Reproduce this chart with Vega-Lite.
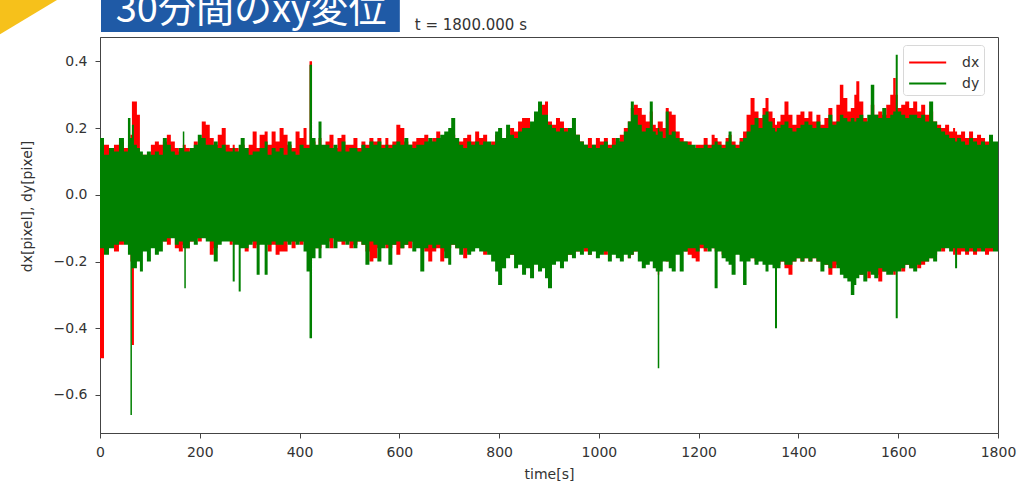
{
 "$schema": "https://vega.github.io/schema/vega-lite/v6.json",
 "width": 898,
 "height": 396,
 "autosize": {"type": "none"},
 "padding": {"left": 100, "top": 37, "right": 22, "bottom": 52},
 "background": "white",
 "config": {
  "view": {"stroke": "#444", "strokeWidth": 1},
  "font": "DejaVu Sans",
  "axis": {"grid": false, "labelFont": "DejaVu Sans", "titleFont": "DejaVu Sans", "labelColor": "#333", "titleColor": "#333", "tickColor": "#444", "domainColor": "#444", "titleFontWeight": "normal", "labelFontSize": 14, "titleFontSize": 14}
 },
 "data": {"values": [
  {"t":0,"xh":0.16,"xl":-0.49,"yh":0.17,"yl":-0.16},
  {"t":8,"xh":0.15,"xl":-0.17,"yh":0.12,"yl":-0.18},
  {"t":18,"xh":0.14,"xl":-0.15,"yh":0.14,"yl":-0.16},
  {"t":28,"xh":0.15,"xl":-0.17,"yh":0.13,"yl":-0.15},
  {"t":38,"xh":0.16,"xl":-0.15,"yh":0.17,"yl":-0.14},
  {"t":48,"xh":0.14,"xl":-0.14,"yh":0.13,"yl":-0.15},
  {"t":56,"xh":0.15,"xl":-0.13,"yh":0.23,"yl":-0.18},
  {"t":61,"xh":0.18,"xl":-0.2,"yh":0.17,"yl":-0.66},
  {"t":64,"xh":0.28,"xl":-0.45,"yh":0.21,"yl":-0.22},
  {"t":68,"xh":0.28,"xl":-0.2,"yh":0.15,"yl":-0.22},
  {"t":74,"xh":0.24,"xl":-0.16,"yh":0.14,"yl":-0.2},
  {"t":80,"xh":0.11,"xl":-0.17,"yh":0.13,"yl":-0.23},
  {"t":86,"xh":0.12,"xl":-0.15,"yh":0.12,"yl":-0.17},
  {"t":94,"xh":0.11,"xl":-0.14,"yh":0.13,"yl":-0.2},
  {"t":102,"xh":0.15,"xl":-0.15,"yh":0.12,"yl":-0.16},
  {"t":110,"xh":0.16,"xl":-0.14,"yh":0.13,"yl":-0.18},
  {"t":118,"xh":0.15,"xl":-0.13,"yh":0.12,"yl":-0.17},
  {"t":126,"xh":0.16,"xl":-0.14,"yh":0.17,"yl":-0.14},
  {"t":134,"xh":0.18,"xl":-0.15,"yh":0.15,"yl":-0.13},
  {"t":142,"xh":0.16,"xl":-0.12,"yh":0.13,"yl":-0.13},
  {"t":150,"xh":0.14,"xl":-0.16,"yh":0.12,"yl":-0.15},
  {"t":158,"xh":0.13,"xl":-0.17,"yh":0.14,"yl":-0.14},
  {"t":166,"xh":0.15,"xl":-0.15,"yh":0.19,"yl":-0.16},
  {"t":169,"xh":0.15,"xl":-0.16,"yh":0.13,"yl":-0.28},
  {"t":172,"xh":0.14,"xl":-0.16,"yh":0.13,"yl":-0.16},
  {"t":180,"xh":0.13,"xl":-0.14,"yh":0.14,"yl":-0.14},
  {"t":188,"xh":0.16,"xl":-0.13,"yh":0.15,"yl":-0.15},
  {"t":196,"xh":0.15,"xl":-0.14,"yh":0.18,"yl":-0.13},
  {"t":204,"xh":0.22,"xl":-0.12,"yh":0.17,"yl":-0.13},
  {"t":212,"xh":0.21,"xl":-0.13,"yh":0.15,"yl":-0.14},
  {"t":220,"xh":0.17,"xl":-0.18,"yh":0.15,"yl":-0.14},
  {"t":228,"xh":0.15,"xl":-0.16,"yh":0.16,"yl":-0.2},
  {"t":236,"xh":0.18,"xl":-0.14,"yh":0.14,"yl":-0.15},
  {"t":244,"xh":0.2,"xl":-0.13,"yh":0.15,"yl":-0.14},
  {"t":252,"xh":0.15,"xl":-0.13,"yh":0.13,"yl":-0.14},
  {"t":260,"xh":0.14,"xl":-0.15,"yh":0.13,"yl":-0.14},
  {"t":266,"xh":0.15,"xl":-0.14,"yh":0.14,"yl":-0.26},
  {"t":270,"xh":0.14,"xl":-0.14,"yh":0.13,"yl":-0.15},
  {"t":278,"xh":0.13,"xl":-0.15,"yh":0.15,"yl":-0.29},
  {"t":282,"xh":0.15,"xl":-0.14,"yh":0.17,"yl":-0.16},
  {"t":290,"xh":0.14,"xl":-0.17,"yh":0.14,"yl":-0.16},
  {"t":298,"xh":0.15,"xl":-0.14,"yh":0.12,"yl":-0.15},
  {"t":306,"xh":0.19,"xl":-0.16,"yh":0.13,"yl":-0.14},
  {"t":314,"xh":0.14,"xl":-0.15,"yh":0.13,"yl":-0.24},
  {"t":320,"xh":0.18,"xl":-0.13,"yh":0.14,"yl":-0.15},
  {"t":330,"xh":0.19,"xl":-0.13,"yh":0.16,"yl":-0.24},
  {"t":336,"xh":0.15,"xl":-0.17,"yh":0.12,"yl":-0.15},
  {"t":344,"xh":0.19,"xl":-0.15,"yh":0.14,"yl":-0.14},
  {"t":352,"xh":0.16,"xl":-0.18,"yh":0.13,"yl":-0.15},
  {"t":360,"xh":0.2,"xl":-0.17,"yh":0.14,"yl":-0.15},
  {"t":368,"xh":0.18,"xl":-0.17,"yh":0.12,"yl":-0.14},
  {"t":376,"xh":0.15,"xl":-0.14,"yh":0.16,"yl":-0.15},
  {"t":384,"xh":0.14,"xl":-0.16,"yh":0.13,"yl":-0.14},
  {"t":392,"xh":0.19,"xl":-0.14,"yh":0.12,"yl":-0.15},
  {"t":400,"xh":0.17,"xl":-0.15,"yh":0.15,"yl":-0.14},
  {"t":408,"xh":0.2,"xl":-0.14,"yh":0.14,"yl":-0.17},
  {"t":414,"xh":0.15,"xl":-0.15,"yh":0.14,"yl":-0.23},
  {"t":420,"xh":0.4,"xl":-0.2,"yh":0.39,"yl":-0.43},
  {"t":425,"xh":0.16,"xl":-0.15,"yh":0.17,"yl":-0.19},
  {"t":432,"xh":0.14,"xl":-0.16,"yh":0.15,"yl":-0.16},
  {"t":438,"xh":0.17,"xl":-0.16,"yh":0.22,"yl":-0.19},
  {"t":444,"xh":0.14,"xl":-0.13,"yh":0.15,"yl":-0.15},
  {"t":452,"xh":0.16,"xl":-0.14,"yh":0.15,"yl":-0.16},
  {"t":460,"xh":0.18,"xl":-0.16,"yh":0.14,"yl":-0.13},
  {"t":468,"xh":0.14,"xl":-0.13,"yh":0.15,"yl":-0.16},
  {"t":476,"xh":0.17,"xl":-0.14,"yh":0.13,"yl":-0.14},
  {"t":484,"xh":0.18,"xl":-0.15,"yh":0.16,"yl":-0.14},
  {"t":492,"xh":0.15,"xl":-0.13,"yh":0.13,"yl":-0.15},
  {"t":500,"xh":0.15,"xl":-0.16,"yh":0.14,"yl":-0.14},
  {"t":508,"xh":0.17,"xl":-0.15,"yh":0.14,"yl":-0.16},
  {"t":516,"xh":0.14,"xl":-0.14,"yh":0.13,"yl":-0.14},
  {"t":524,"xh":0.16,"xl":-0.15,"yh":0.15,"yl":-0.15},
  {"t":532,"xh":0.15,"xl":-0.17,"yh":0.14,"yl":-0.21},
  {"t":540,"xh":0.17,"xl":-0.2,"yh":0.16,"yl":-0.14},
  {"t":548,"xh":0.16,"xl":-0.19,"yh":0.15,"yl":-0.15},
  {"t":556,"xh":0.17,"xl":-0.16,"yh":0.16,"yl":-0.2},
  {"t":564,"xh":0.15,"xl":-0.15,"yh":0.14,"yl":-0.16},
  {"t":572,"xh":0.17,"xl":-0.16,"yh":0.15,"yl":-0.15},
  {"t":578,"xh":0.15,"xl":-0.16,"yh":0.14,"yl":-0.21},
  {"t":586,"xh":0.16,"xl":-0.15,"yh":0.15,"yl":-0.15},
  {"t":594,"xh":0.21,"xl":-0.18,"yh":0.16,"yl":-0.14},
  {"t":602,"xh":0.2,"xl":-0.16,"yh":0.15,"yl":-0.16},
  {"t":610,"xh":0.16,"xl":-0.15,"yh":0.17,"yl":-0.15},
  {"t":618,"xh":0.15,"xl":-0.16,"yh":0.15,"yl":-0.14},
  {"t":626,"xh":0.16,"xl":-0.14,"yh":0.14,"yl":-0.17},
  {"t":634,"xh":0.17,"xl":-0.15,"yh":0.15,"yl":-0.16},
  {"t":642,"xh":0.17,"xl":-0.16,"yh":0.15,"yl":-0.23},
  {"t":650,"xh":0.18,"xl":-0.17,"yh":0.16,"yl":-0.16},
  {"t":658,"xh":0.16,"xl":-0.2,"yh":0.17,"yl":-0.15},
  {"t":666,"xh":0.17,"xl":-0.17,"yh":0.16,"yl":-0.16},
  {"t":674,"xh":0.19,"xl":-0.16,"yh":0.17,"yl":-0.15},
  {"t":682,"xh":0.17,"xl":-0.2,"yh":0.18,"yl":-0.16},
  {"t":690,"xh":0.18,"xl":-0.17,"yh":0.19,"yl":-0.19},
  {"t":698,"xh":0.17,"xl":-0.16,"yh":0.2,"yl":-0.21},
  {"t":704,"xh":0.18,"xl":-0.15,"yh":0.23,"yl":-0.15},
  {"t":712,"xh":0.16,"xl":-0.16,"yh":0.17,"yl":-0.16},
  {"t":720,"xh":0.16,"xl":-0.16,"yh":0.15,"yl":-0.18},
  {"t":728,"xh":0.17,"xl":-0.19,"yh":0.14,"yl":-0.16},
  {"t":736,"xh":0.18,"xl":-0.17,"yh":0.16,"yl":-0.18},
  {"t":744,"xh":0.16,"xl":-0.16,"yh":0.15,"yl":-0.17},
  {"t":752,"xh":0.19,"xl":-0.15,"yh":0.16,"yl":-0.16},
  {"t":760,"xh":0.17,"xl":-0.16,"yh":0.15,"yl":-0.17},
  {"t":768,"xh":0.18,"xl":-0.18,"yh":0.16,"yl":-0.17},
  {"t":776,"xh":0.15,"xl":-0.17,"yh":0.16,"yl":-0.18},
  {"t":784,"xh":0.16,"xl":-0.16,"yh":0.15,"yl":-0.2},
  {"t":792,"xh":0.18,"xl":-0.17,"yh":0.19,"yl":-0.23},
  {"t":798,"xh":0.17,"xl":-0.19,"yh":0.2,"yl":-0.27},
  {"t":806,"xh":0.17,"xl":-0.18,"yh":0.17,"yl":-0.22},
  {"t":814,"xh":0.18,"xl":-0.17,"yh":0.21,"yl":-0.19},
  {"t":822,"xh":0.2,"xl":-0.18,"yh":0.18,"yl":-0.18},
  {"t":830,"xh":0.19,"xl":-0.17,"yh":0.17,"yl":-0.22},
  {"t":838,"xh":0.22,"xl":-0.2,"yh":0.19,"yl":-0.21},
  {"t":846,"xh":0.23,"xl":-0.2,"yh":0.2,"yl":-0.24},
  {"t":854,"xh":0.23,"xl":-0.21,"yh":0.2,"yl":-0.22},
  {"t":862,"xh":0.21,"xl":-0.22,"yh":0.22,"yl":-0.25},
  {"t":870,"xh":0.24,"xl":-0.19,"yh":0.25,"yl":-0.21},
  {"t":878,"xh":0.26,"xl":-0.2,"yh":0.28,"yl":-0.23},
  {"t":886,"xh":0.27,"xl":-0.21,"yh":0.24,"yl":-0.22},
  {"t":892,"xh":0.28,"xl":-0.22,"yh":0.24,"yl":-0.25},
  {"t":898,"xh":0.22,"xl":-0.2,"yh":0.21,"yl":-0.28},
  {"t":906,"xh":0.21,"xl":-0.2,"yh":0.2,"yl":-0.21},
  {"t":914,"xh":0.23,"xl":-0.18,"yh":0.19,"yl":-0.2},
  {"t":922,"xh":0.22,"xl":-0.19,"yh":0.2,"yl":-0.22},
  {"t":930,"xh":0.2,"xl":-0.17,"yh":0.19,"yl":-0.2},
  {"t":938,"xh":0.18,"xl":-0.18,"yh":0.2,"yl":-0.18},
  {"t":946,"xh":0.19,"xl":-0.16,"yh":0.23,"yl":-0.19},
  {"t":954,"xh":0.18,"xl":-0.17,"yh":0.18,"yl":-0.17},
  {"t":962,"xh":0.16,"xl":-0.15,"yh":0.16,"yl":-0.18},
  {"t":970,"xh":0.15,"xl":-0.17,"yh":0.15,"yl":-0.16},
  {"t":978,"xh":0.17,"xl":-0.18,"yh":0.14,"yl":-0.18},
  {"t":986,"xh":0.15,"xl":-0.16,"yh":0.15,"yl":-0.17},
  {"t":994,"xh":0.17,"xl":-0.17,"yh":0.14,"yl":-0.19},
  {"t":1002,"xh":0.16,"xl":-0.17,"yh":0.15,"yl":-0.18},
  {"t":1010,"xh":0.17,"xl":-0.18,"yh":0.16,"yl":-0.17},
  {"t":1018,"xh":0.15,"xl":-0.16,"yh":0.14,"yl":-0.2},
  {"t":1026,"xh":0.17,"xl":-0.17,"yh":0.15,"yl":-0.18},
  {"t":1034,"xh":0.16,"xl":-0.16,"yh":0.17,"yl":-0.19},
  {"t":1042,"xh":0.18,"xl":-0.18,"yh":0.16,"yl":-0.2},
  {"t":1050,"xh":0.2,"xl":-0.17,"yh":0.19,"yl":-0.18},
  {"t":1058,"xh":0.22,"xl":-0.19,"yh":0.22,"yl":-0.19},
  {"t":1064,"xh":0.26,"xl":-0.18,"yh":0.28,"yl":-0.18},
  {"t":1070,"xh":0.27,"xl":-0.17,"yh":0.24,"yl":-0.17},
  {"t":1078,"xh":0.26,"xl":-0.16,"yh":0.21,"yl":-0.2},
  {"t":1086,"xh":0.24,"xl":-0.18,"yh":0.19,"yl":-0.22},
  {"t":1094,"xh":0.22,"xl":-0.17,"yh":0.2,"yl":-0.21},
  {"t":1102,"xh":0.25,"xl":-0.19,"yh":0.28,"yl":-0.2},
  {"t":1108,"xh":0.21,"xl":-0.18,"yh":0.19,"yl":-0.22},
  {"t":1114,"xh":0.2,"xl":-0.2,"yh":0.18,"yl":-0.23},
  {"t":1118,"xh":0.22,"xl":-0.24,"yh":0.2,"yl":-0.52},
  {"t":1121,"xh":0.22,"xl":-0.2,"yh":0.19,"yl":-0.23},
  {"t":1128,"xh":0.2,"xl":-0.18,"yh":0.17,"yl":-0.2},
  {"t":1134,"xh":0.26,"xl":-0.2,"yh":0.25,"yl":-0.2},
  {"t":1140,"xh":0.25,"xl":-0.19,"yh":0.18,"yl":-0.22},
  {"t":1146,"xh":0.24,"xl":-0.17,"yh":0.19,"yl":-0.23},
  {"t":1154,"xh":0.19,"xl":-0.17,"yh":0.17,"yl":-0.18},
  {"t":1162,"xh":0.17,"xl":-0.16,"yh":0.16,"yl":-0.23},
  {"t":1170,"xh":0.16,"xl":-0.17,"yh":0.16,"yl":-0.17},
  {"t":1178,"xh":0.16,"xl":-0.18,"yh":0.15,"yl":-0.16},
  {"t":1186,"xh":0.14,"xl":-0.19,"yh":0.15,"yl":-0.16},
  {"t":1194,"xh":0.15,"xl":-0.2,"yh":0.14,"yl":-0.17},
  {"t":1202,"xh":0.15,"xl":-0.16,"yh":0.14,"yl":-0.15},
  {"t":1210,"xh":0.17,"xl":-0.17,"yh":0.15,"yl":-0.16},
  {"t":1218,"xh":0.15,"xl":-0.15,"yh":0.14,"yl":-0.17},
  {"t":1226,"xh":0.18,"xl":-0.16,"yh":0.15,"yl":-0.16},
  {"t":1232,"xh":0.17,"xl":-0.17,"yh":0.16,"yl":-0.28},
  {"t":1238,"xh":0.16,"xl":-0.16,"yh":0.15,"yl":-0.17},
  {"t":1246,"xh":0.15,"xl":-0.18,"yh":0.14,"yl":-0.19},
  {"t":1254,"xh":0.17,"xl":-0.17,"yh":0.16,"yl":-0.2},
  {"t":1260,"xh":0.18,"xl":-0.16,"yh":0.19,"yl":-0.21},
  {"t":1266,"xh":0.16,"xl":-0.18,"yh":0.15,"yl":-0.24},
  {"t":1274,"xh":0.15,"xl":-0.17,"yh":0.14,"yl":-0.18},
  {"t":1282,"xh":0.17,"xl":-0.18,"yh":0.16,"yl":-0.2},
  {"t":1289,"xh":0.19,"xl":-0.19,"yh":0.17,"yl":-0.27},
  {"t":1296,"xh":0.24,"xl":-0.18,"yh":0.19,"yl":-0.2},
  {"t":1304,"xh":0.29,"xl":-0.19,"yh":0.21,"yl":-0.19},
  {"t":1312,"xh":0.25,"xl":-0.2,"yh":0.23,"yl":-0.21},
  {"t":1320,"xh":0.23,"xl":-0.18,"yh":0.2,"yl":-0.2},
  {"t":1328,"xh":0.26,"xl":-0.19,"yh":0.24,"yl":-0.21},
  {"t":1334,"xh":0.29,"xl":-0.18,"yh":0.25,"yl":-0.23},
  {"t":1340,"xh":0.25,"xl":-0.2,"yh":0.22,"yl":-0.21},
  {"t":1348,"xh":0.23,"xl":-0.19,"yh":0.2,"yl":-0.22},
  {"t":1353,"xh":0.21,"xl":-0.2,"yh":0.19,"yl":-0.4},
  {"t":1357,"xh":0.22,"xl":-0.21,"yh":0.2,"yl":-0.22},
  {"t":1364,"xh":0.24,"xl":-0.2,"yh":0.21,"yl":-0.2},
  {"t":1372,"xh":0.28,"xl":-0.22,"yh":0.22,"yl":-0.21},
  {"t":1380,"xh":0.24,"xl":-0.24,"yh":0.2,"yl":-0.21},
  {"t":1388,"xh":0.21,"xl":-0.2,"yh":0.19,"yl":-0.2},
  {"t":1396,"xh":0.24,"xl":-0.19,"yh":0.2,"yl":-0.19},
  {"t":1404,"xh":0.25,"xl":-0.2,"yh":0.21,"yl":-0.2},
  {"t":1412,"xh":0.23,"xl":-0.19,"yh":0.22,"yl":-0.19},
  {"t":1420,"xh":0.25,"xl":-0.2,"yh":0.21,"yl":-0.2},
  {"t":1428,"xh":0.22,"xl":-0.19,"yh":0.2,"yl":-0.19},
  {"t":1436,"xh":0.24,"xl":-0.2,"yh":0.22,"yl":-0.2},
  {"t":1444,"xh":0.21,"xl":-0.2,"yh":0.2,"yl":-0.23},
  {"t":1452,"xh":0.23,"xl":-0.21,"yh":0.2,"yl":-0.21},
  {"t":1460,"xh":0.26,"xl":-0.24,"yh":0.24,"yl":-0.22},
  {"t":1468,"xh":0.22,"xl":-0.22,"yh":0.21,"yl":-0.2},
  {"t":1476,"xh":0.27,"xl":-0.21,"yh":0.22,"yl":-0.22},
  {"t":1483,"xh":0.33,"xl":-0.22,"yh":0.24,"yl":-0.24},
  {"t":1490,"xh":0.29,"xl":-0.23,"yh":0.23,"yl":-0.25},
  {"t":1498,"xh":0.25,"xl":-0.22,"yh":0.22,"yl":-0.26},
  {"t":1505,"xh":0.26,"xl":-0.24,"yh":0.23,"yl":-0.3},
  {"t":1512,"xh":0.3,"xl":-0.23,"yh":0.22,"yl":-0.27},
  {"t":1516,"xh":0.34,"xl":-0.22,"yh":0.23,"yl":-0.25},
  {"t":1522,"xh":0.28,"xl":-0.24,"yh":0.24,"yl":-0.24},
  {"t":1530,"xh":0.23,"xl":-0.22,"yh":0.22,"yl":-0.26},
  {"t":1538,"xh":0.22,"xl":-0.25,"yh":0.24,"yl":-0.23},
  {"t":1545,"xh":0.27,"xl":-0.23,"yh":0.33,"yl":-0.24},
  {"t":1552,"xh":0.24,"xl":-0.24,"yh":0.24,"yl":-0.25},
  {"t":1560,"xh":0.25,"xl":-0.26,"yh":0.23,"yl":-0.22},
  {"t":1568,"xh":0.24,"xl":-0.23,"yh":0.26,"yl":-0.23},
  {"t":1576,"xh":0.27,"xl":-0.22,"yh":0.23,"yl":-0.24},
  {"t":1584,"xh":0.3,"xl":-0.23,"yh":0.24,"yl":-0.24},
  {"t":1590,"xh":0.35,"xl":-0.24,"yh":0.25,"yl":-0.23},
  {"t":1595,"xh":0.3,"xl":-0.22,"yh":0.42,"yl":-0.37},
  {"t":1599,"xh":0.26,"xl":-0.22,"yh":0.25,"yl":-0.23},
  {"t":1606,"xh":0.27,"xl":-0.23,"yh":0.24,"yl":-0.22},
  {"t":1614,"xh":0.28,"xl":-0.21,"yh":0.23,"yl":-0.21},
  {"t":1622,"xh":0.26,"xl":-0.22,"yh":0.24,"yl":-0.22},
  {"t":1630,"xh":0.28,"xl":-0.2,"yh":0.24,"yl":-0.23},
  {"t":1638,"xh":0.25,"xl":-0.22,"yh":0.23,"yl":-0.21},
  {"t":1646,"xh":0.27,"xl":-0.21,"yh":0.24,"yl":-0.2},
  {"t":1654,"xh":0.24,"xl":-0.2,"yh":0.22,"yl":-0.2},
  {"t":1662,"xh":0.25,"xl":-0.19,"yh":0.28,"yl":-0.19},
  {"t":1670,"xh":0.22,"xl":-0.18,"yh":0.22,"yl":-0.2},
  {"t":1678,"xh":0.21,"xl":-0.16,"yh":0.2,"yl":-0.17},
  {"t":1686,"xh":0.2,"xl":-0.17,"yh":0.19,"yl":-0.16},
  {"t":1694,"xh":0.21,"xl":-0.15,"yh":0.18,"yl":-0.16},
  {"t":1702,"xh":0.19,"xl":-0.16,"yh":0.17,"yl":-0.17},
  {"t":1710,"xh":0.2,"xl":-0.18,"yh":0.17,"yl":-0.16},
  {"t":1714,"xh":0.19,"xl":-0.17,"yh":0.16,"yl":-0.22},
  {"t":1718,"xh":0.18,"xl":-0.18,"yh":0.17,"yl":-0.16},
  {"t":1726,"xh":0.19,"xl":-0.17,"yh":0.16,"yl":-0.16},
  {"t":1734,"xh":0.17,"xl":-0.18,"yh":0.15,"yl":-0.17},
  {"t":1742,"xh":0.19,"xl":-0.17,"yh":0.17,"yl":-0.16},
  {"t":1750,"xh":0.17,"xl":-0.18,"yh":0.16,"yl":-0.17},
  {"t":1758,"xh":0.18,"xl":-0.17,"yh":0.15,"yl":-0.16},
  {"t":1766,"xh":0.17,"xl":-0.16,"yh":0.16,"yl":-0.17},
  {"t":1774,"xh":0.16,"xl":-0.18,"yh":0.15,"yl":-0.16},
  {"t":1782,"xh":0.17,"xl":-0.17,"yh":0.18,"yl":-0.16},
  {"t":1790,"xh":0.15,"xl":-0.16,"yh":0.16,"yl":-0.17},
  {"t":1800,"xh":0.15,"xl":-0.16,"yh":0.15,"yl":-0.15}
 ]},
 "layer": [
  {
   "mark": {"type": "area", "interpolate": "step-after", "clip": true},
   "encoding": {
    "x": {"field": "t", "type": "quantitative", "scale": {"domain": [0, 1800], "nice": false, "zero": false},
          "axis": {"title": "time[s]", "values": [0,200,400,600,800,1000,1200,1400,1600,1800], "format": "d", "tickSize": 5, "labelPadding": 7, "titlePadding": 8, "labelFlush": false}},
    "y": {"field": "xh", "type": "quantitative", "scale": {"domain": [-0.714, 0.473], "nice": false, "zero": false},
          "axis": {"title": "dx[pixel], dy[pixel]", "values": [-0.6,-0.4,-0.2,0,0.2,0.4], "format": ".1f", "tickSize": 5, "labelPadding": 8, "titleX": -73, "titleY": 169, "titleAngle": 270, "titleAlign": "center", "titleBaseline": "middle"}},
    "y2": {"field": "xl"},
    "color": {"datum": "dx", "type": "nominal",
              "scale": {"domain": ["dx", "dy"], "range": ["#ff0000", "#008000"]},
              "legend": {"title": null, "orient": "none", "legendX": 803, "legendY": 8,
                         "symbolType": "M-0.92,0L2.08,0", "symbolSize": 610, "symbolStrokeWidth": 2,
                         "labelOffset": 28, "labelFontSize": 14, "labelColor": "#333", "labelFont": "DejaVu Sans",
                         "padding": 4, "rowPadding": 0, "fillColor": "white", "strokeColor": "#d8d8d8", "cornerRadius": 3,
                         "encode": {"symbols": {"update": {"stroke": {"scale": "color", "field": "value"}}}}}}
   }
  },
  {
   "mark": {"type": "area", "interpolate": "step-after", "clip": true},
   "encoding": {
    "x": {"field": "t", "type": "quantitative"},
    "y": {"field": "yh", "type": "quantitative"},
    "y2": {"field": "yl"},
    "color": {"datum": "dy", "type": "nominal"}
   }
  },
  {
   "data": {"values": [{}]},
   "mark": {"type": "point", "shape": "M0,0L1,0L0,0.6Z", "filled": true, "color": "#f6c11b", "opacity": 1, "size": 12996},
   "encoding": {"x": {"datum": -200.4, "type": "quantitative"}, "y": {"datum": 0.584, "type": "quantitative"}}
  },
  {
   "data": {"values": [{}]},
   "mark": {"type": "rect", "color": "#1f5aa6"},
   "encoding": {"x": {"datum": 2, "type": "quantitative"}, "x2": {"datum": 601}, "y": {"datum": 0.584, "type": "quantitative"}, "y2": {"datum": 0.488}}
  },
  {
   "data": {"values": [{}]},
   "mark": {"type": "text", "text": "30分間のxy変位", "font": "Noto Sans CJK JP", "fontSize": 38, "color": "white", "align": "center", "baseline": "alphabetic"},
   "encoding": {"x": {"datum": 303, "type": "quantitative"}, "y": {"datum": 0.518, "type": "quantitative"}}
  },
  {
   "data": {"values": [{}]},
   "mark": {"type": "text", "text": "t = 1800.000 s", "font": "DejaVu Sans", "fontSize": 15, "color": "#333", "align": "left", "baseline": "alphabetic"},
   "encoding": {"x": {"datum": 631, "type": "quantitative"}, "y": {"datum": 0.494, "type": "quantitative"}}
  }
 ]
}
